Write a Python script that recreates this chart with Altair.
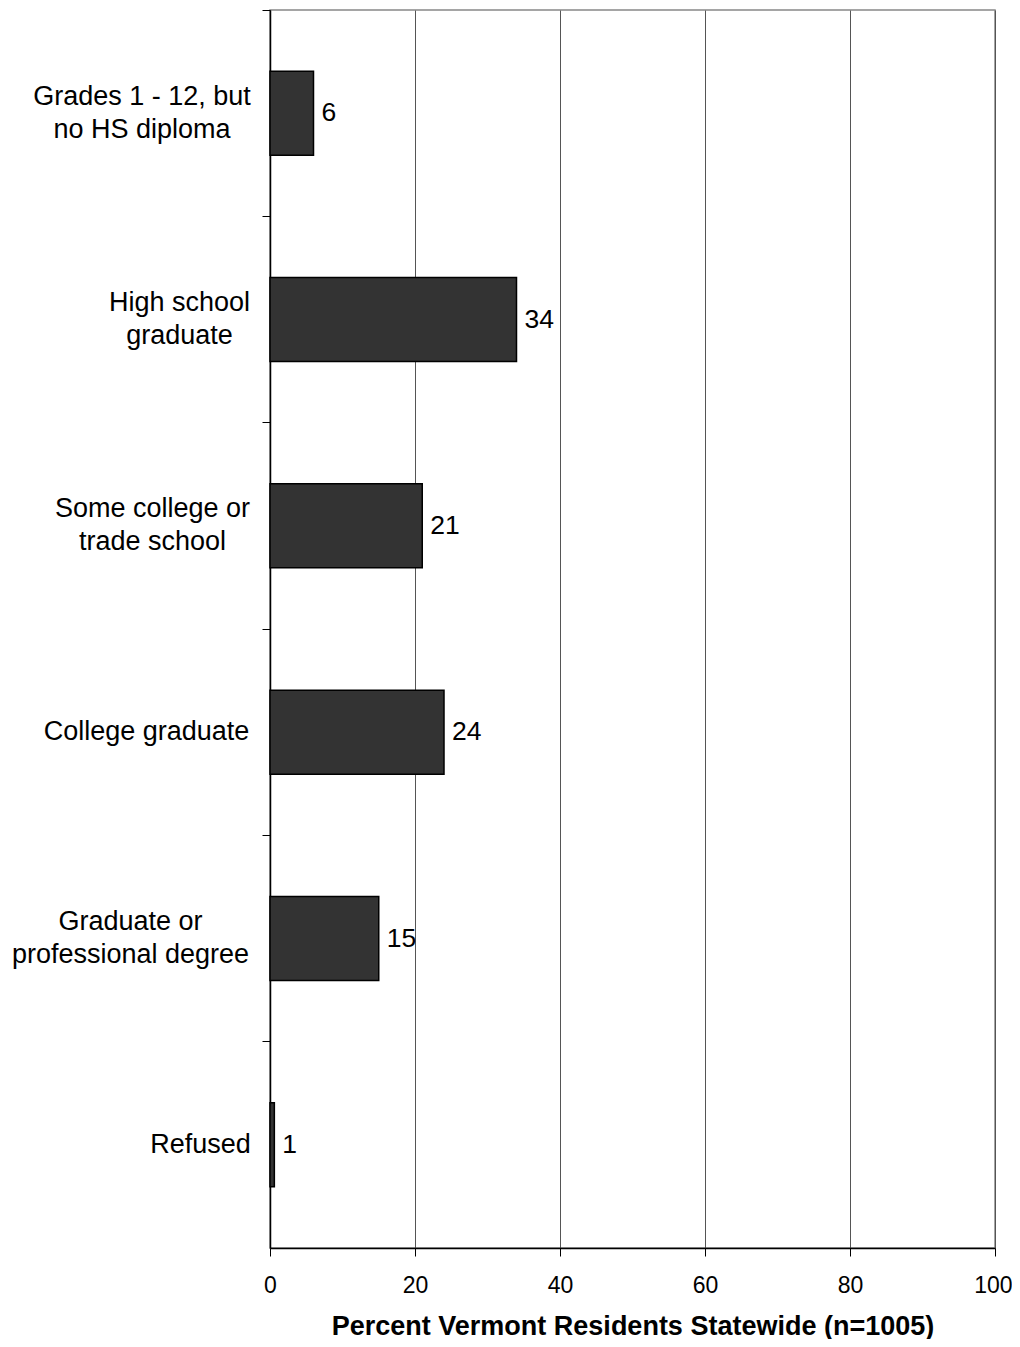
import json
import altair as alt
import pandas as pd

categories = [
    "Grades 1 - 12, but|no HS diploma",
    "High school|graduate",
    "Some college or|trade school",
    "College graduate",
    "Graduate or|professional degree",
    "Refused",
]
values = [6, 34, 21, 24, 15, 0.6]
labels = ["6", "34", "21", "24", "15", "1"]
x_ticks = [0, 20, 40, 60, 80, 100]

# style: distance (px) from tick end to the centre of each label block
label_pads = [120.5, 83, 110, 116, 132, 62]

df = pd.DataFrame({"cat": categories, "val": values, "lab": labels})

FONT = "Liberation Sans"

pad_expr = "%s[indexof(%s, datum.value)]" % (json.dumps(label_pads), json.dumps(categories))

y = alt.Y(
    "cat:N",
    sort=categories,
    scale=alt.Scale(paddingInner=0, paddingOuter=0),
    axis=alt.Axis(
        title=None,
        bandPosition=0,
        labelOffset={"condition": {"test": "indexof(datum.value, '|') >= 0", "value": -16.5}, "value": 0},
        labelPadding={"condition": {"test": "isValid(datum.value)", "expr": pad_expr}, "value": 13},
        labelBaseline="middle",
        labelExpr="split(datum.label, '|')",
        labelFontSize=27,
        labelLineHeight=33,
        labelLimit=400,
        labelFont=FONT,
        labelColor="black",
        labelAlign="center",
        tickSize=8,
        tickColor="black",
        domainColor="black",
        domainWidth=1.5,
        grid=False,
    ),
)

x = alt.X(
    "val:Q",
    scale=alt.Scale(domain=[0, 100]),
    axis=alt.Axis(
        title="Percent Vermont Residents Statewide (n=1005)",
        values=x_ticks,
        labelFontSize=23,
        labelFont=FONT,
        labelColor="black",
        labelPadding=18,
        labelFlush=False,
        labelAlign={"condition": {"test": "datum.value == 100", "value": "right"}, "value": "center"},
        labelOffset={"condition": {"test": "datum.value == 100", "value": 17}, "value": 0},
        tickSize=8,
        tickColor="black",
        domainColor="black",
        domainWidth=1.5,
        grid=True,
        gridColor="#555555",
        gridWidth=1,
        titleFont=FONT,
        titleFontSize=27,
        titleFontWeight="bold",
        titleColor="black",
        titlePadding=16,
    ),
)

bars = alt.Chart(df).mark_bar(
    size=84, color="#333333", stroke="black", strokeWidth=1.5
).encode(x=x, y=y)

text = alt.Chart(df).mark_text(
    align="left", baseline="middle", dx=8, fontSize=26.5, font=FONT, color="black"
).encode(x="val:Q", y=alt.Y("cat:N", sort=categories), text="lab:N")

chart = (
    alt.layer(bars, text)
    .properties(
        width=725,
        height=1238,
        autosize=alt.AutoSizeParams(type="none"),
        padding={"left": 262, "top": 2, "right": 17, "bottom": 91},
        background="white",
    )
    .configure_view(stroke="#888888", strokeWidth=1.5)
)

chart.save("out.html", embed_options={"renderer": "svg", "actions": False})
